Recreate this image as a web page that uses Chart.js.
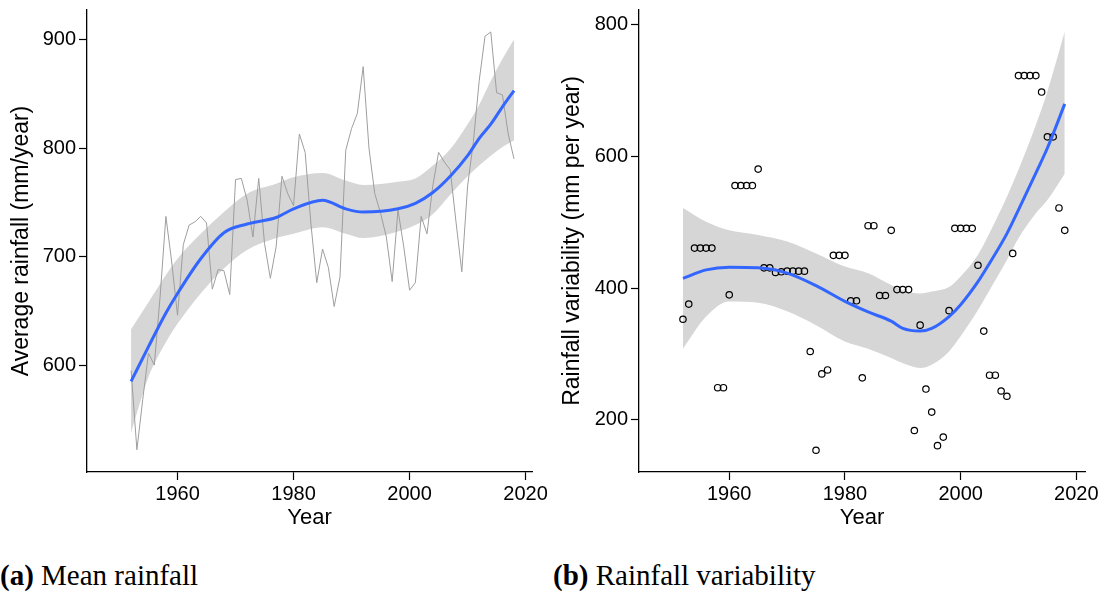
<!DOCTYPE html>
<html>
<head>
<meta charset="utf-8">
<script src="https://cdn.jsdelivr.net/npm/chart.js@4.4.1/dist/chart.umd.min.js"></script>
<style>
  body { margin: 0; background: #fff; width: 1108px; height: 594px; position: relative; overflow: hidden; }
  .panel { position: absolute; top: 0; width: 554px; height: 540px; }
  .caption { position: absolute; top: 559px; font-family: "Liberation Serif", "Times New Roman", serif; font-size: 29px; color: #000; white-space: nowrap; }
</style>
</head>
<body>
<div class="panel" style="left:0"><canvas id="mean-chart"></canvas></div>
<div class="panel" style="left:554px"><canvas id="var-chart"></canvas></div>
<div class="caption" style="left:0"><b>(a)</b> Mean rainfall</div>
<div class="caption" style="left:553px"><b>(b)</b> Rainfall variability</div>

<script>
const years = [1952, 1953, 1954, 1955, 1956, 1957, 1958, 1959, 1960, 1961,
    1962, 1963, 1964, 1965, 1966, 1967, 1968, 1969, 1970, 1971,
    1972, 1973, 1974, 1975, 1976, 1977, 1978, 1979, 1980, 1981,
    1982, 1983, 1984, 1985, 1986, 1987, 1988, 1989, 1990, 1991,
    1992, 1993, 1994, 1995, 1996, 1997, 1998, 1999, 2000, 2001,
    2002, 2003, 2004, 2005, 2006, 2007, 2008, 2009, 2010, 2011,
    2012, 2013, 2014, 2015, 2016, 2017, 2018];

// average rainfall, mm/year
const meanRainfall = [595, 522, 568, 611, 600, 663, 737, 695, 646, 711,
    729, 732, 737, 731, 670, 688, 687, 665, 771, 772,
    752, 718, 772, 712, 680, 709, 774, 758, 747, 813,
    796, 730, 676, 707, 690, 654, 681, 798, 818, 832,
    875, 800, 758, 740, 718, 677, 743, 709, 669, 676,
    737, 721, 765, 796, 787, 780, 732, 686, 765, 806,
    862, 903, 907, 851, 849, 813, 790];

// rainfall variability, mm per year
const rainfallVar = [353, 376, 461, 461, 461, 461, 249, 249, 390, 556,
    556, 556, 556, 581, 431, 431, 424, 425, 426, 426,
    426, 426, 304, 154, 270, 276, 450, 450, 450, 381,
    381, 264, 495, 495, 389, 389, 488, 398, 398, 398,
    184, 344, 247, 212, 161, 174, 366, 491, 491, 491,
    491, 435, 335, 268, 268, 244, 236, 453, 723, 723,
    723, 723, 698, 630, 630, 522, 488];

// smoothed trend + confidence band
const meanFitYears  = [1952, 1955, 1958, 1960, 1964, 1968, 1972, 1977, 1980, 1985, 1989, 1992, 1998, 2001, 2004, 2007, 2010, 2012, 2014, 2016, 2018];
const meanFit       = [585, 617, 648, 666, 698, 722, 730, 736, 744, 752, 744, 741, 744, 749, 759, 774, 793, 809, 822, 838, 853];
const meanFitUpper  = [633, 658, 683, 698, 721, 741, 758, 767, 773, 777, 770, 766, 769, 772, 784, 799, 822, 840, 862, 882, 900];
const meanFitLower  = [538, 589, 621, 638, 666, 689, 706, 717, 721, 727, 721, 717, 723, 729, 739, 757, 774, 784, 793, 801, 807];

const varFitYears   = [1952, 1956, 1960, 1965, 1970, 1975, 1980, 1984, 1988, 1990, 1993, 1995, 1998, 2000, 2003, 2005, 2008, 2010, 2013, 2015, 2018];
const varFit        = [415, 428, 432, 431, 423, 404, 380, 364, 350, 339, 335, 339, 357, 375, 410, 438, 483, 519, 575, 613, 680];
const varFitUpper   = [522, 501, 488, 481, 471, 453, 433, 423, 405, 397, 392, 395, 402, 418, 451, 484, 539, 580, 648, 699, 790];
const varFitLower   = [308, 357, 380, 378, 365, 344, 319, 308, 294, 286, 279, 284, 304, 327, 367, 397, 443, 476, 514, 534, 574];

const yearTicks = [1960, 1980, 2000, 2020];
const meanTicks = [600, 700, 800, 900];
const varTicks  = [200, 400, 600, 800];

const FONT = '"Liberation Sans", Arial, sans-serif';
const BLUE = '#3366FF';
const BAND = 'rgb(214,214,214)';

function pts(xs, ys) {
    return xs.map((x, i) => ({ x: x, y: ys[i] }));
}

function bandSets(xs, upper, lower) {
    return [{
        data: pts(xs, upper),
        borderColor: 'rgba(0,0,0,0)',
        pointRadius: 0,
        fill: false,
        cubicInterpolationMode: 'monotone',
        order: 4
    }, {
        data: pts(xs, lower),
        borderColor: 'rgba(0,0,0,0)',
        backgroundColor: BAND,
        pointRadius: 0,
        fill: '-1',
        cubicInterpolationMode: 'monotone',
        order: 3
    }];
}

function fitSet(xs, ys) {
    return {
        data: pts(xs, ys),
        borderColor: BLUE,
        borderWidth: 3,
        pointRadius: 0,
        fill: false,
        cubicInterpolationMode: 'monotone',
        order: 0
    };
}

function axes(x, y) {
    const tickStyle = { color: '#000', font: { family: FONT, size: 20 } };
    const grid = { drawOnChartArea: false, drawTicks: true, tickLength: 8, tickColor: '#000', tickWidth: 1.2 };
    const border = { display: true, color: '#000', width: 1.3 };
    return {
        x: {
            type: 'linear', min: x.min, max: x.max,
            afterBuildTicks: s => { s.ticks = yearTicks.map(v => ({ value: v })); },
            // fixed axis height, no extra side padding for end labels
            afterFit: s => { s.height = 68; s.paddingLeft = 0; s.paddingRight = 0; },
            ticks: Object.assign({ padding: 2, maxRotation: 0, callback: v => String(v) }, tickStyle),
            grid: grid, border: border,
            title: { display: true, text: 'Year', color: '#000', font: { family: FONT, size: 22 }, padding: { top: 0, bottom: 9 } }
        },
        y: {
            type: 'linear', min: y.min, max: y.max,
            afterBuildTicks: s => { s.ticks = y.ticks.map(v => ({ value: v })); },
            afterFit: s => { s.width = y.width; s.paddingTop = 0; s.paddingBottom = 0; },
            ticks: Object.assign({ padding: 3, callback: v => String(v) }, tickStyle),
            grid: grid, border: border,
            title: { display: true, text: y.title, color: '#000', font: { family: FONT, size: 23 }, padding: { top: y.titlePad, bottom: 0 } }
        }
    };
}

function baseOptions(scales, padRight) {
    return {
        responsive: true,
        maintainAspectRatio: false,
        animation: false,
        layout: { padding: { top: 10, right: padRight, bottom: 0, left: 0 } },
        plugins: { legend: { display: false }, tooltip: { enabled: false } },
        scales: scales
    };
}

// (a) mean rainfall: yearly series with smooth trend
new Chart(document.getElementById('mean-chart').getContext('2d'), {
    type: 'line',
    data: {
        datasets: [
            fitSet(meanFitYears, meanFit),
            {
                data: pts(years, meanRainfall),
                borderColor: '#9e9e9e',
                borderWidth: 1,
                pointRadius: 0,
                fill: false,
                tension: 0,
                order: 1
            },
            ...bandSets(meanFitYears, meanFitUpper, meanFitLower)
        ]
    },
    options: baseOptions(axes(
        { min: 1944.4, max: 2021.1 },
        { min: 501.5, max: 927.2, ticks: meanTicks, width: 87, title: 'Average rainfall (mm/year)', titlePad: 8 }
    ), 22)
});

// (b) variability: yearly points with smooth trend
new Chart(document.getElementById('var-chart').getContext('2d'), {
    type: 'line',
    data: {
        datasets: [
            fitSet(varFitYears, varFit),
            {
                data: pts(years, rainfallVar),
                showLine: false,
                pointRadius: 3.2,
                pointBorderWidth: 1.2,
                pointBorderColor: '#000',
                pointBackgroundColor: 'rgba(0,0,0,0)',
                order: 1
            },
            ...bandSets(varFitYears, varFitUpper, varFitLower)
        ]
    },
    options: baseOptions(axes(
        { min: 1944.4, max: 2021.5 },
        { min: 121, max: 822.6, ticks: varTicks, width: 85, title: 'Rainfall variability (mm per year)', titlePad: 5 }
    ), 23)
});
</script>
</body>
</html>
